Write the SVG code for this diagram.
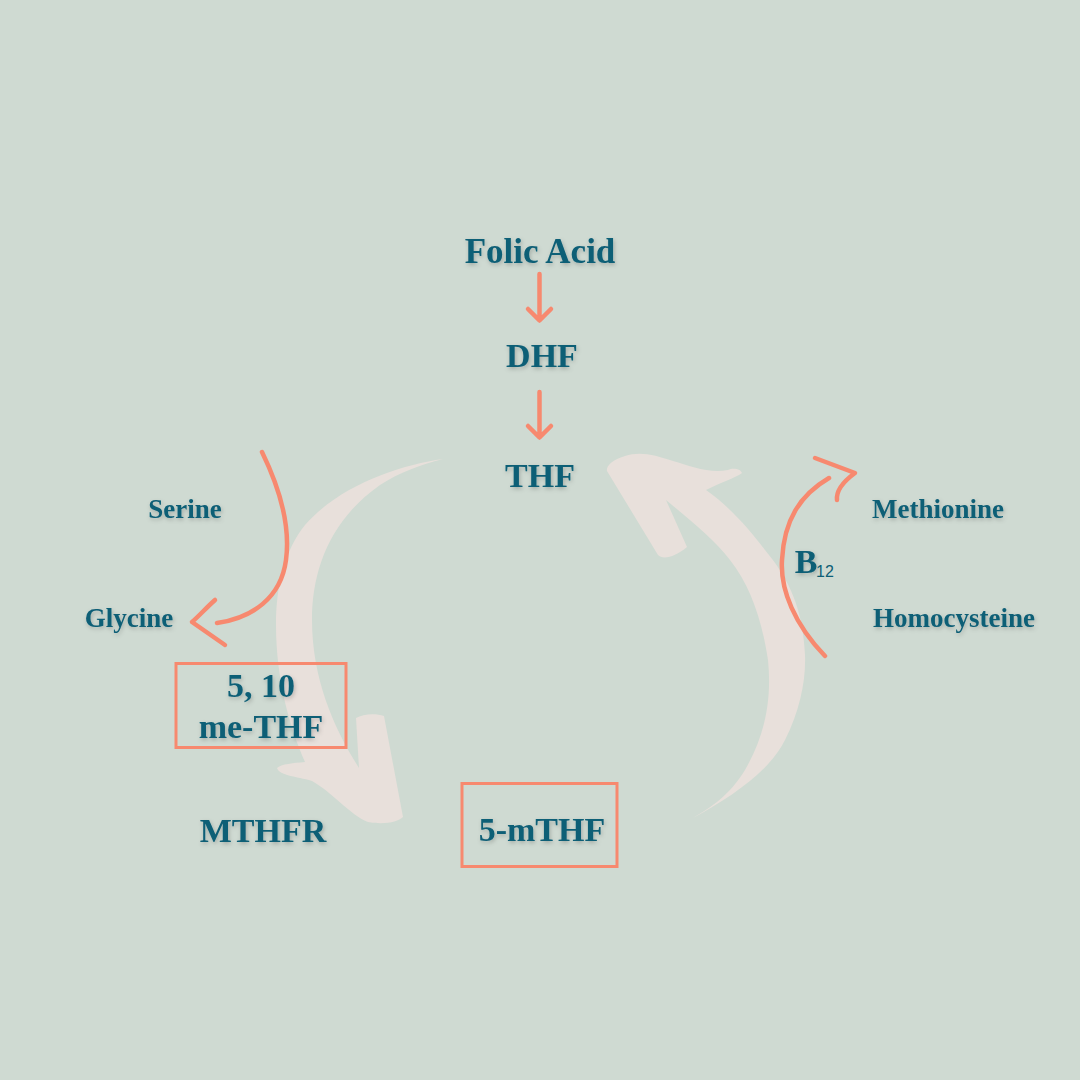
<svg xmlns="http://www.w3.org/2000/svg" width="1080" height="1080" viewBox="0 0 1080 1080">
<defs>
<filter id="sh" x="-20%" y="-40%" width="140%" height="180%">
<feDropShadow dx="1" dy="2" stdDeviation="2" flood-color="#000" flood-opacity="0.22"/>
</filter>
<style>
.t{font-family:"Liberation Serif","Times New Roman",serif;font-weight:bold;fill:#0D5E76;text-anchor:middle;filter:url(#sh)}
.big{font-size:34px}
.sm{font-size:27px}
.s{fill:none;stroke:#F7896F;stroke-width:4.5;stroke-linecap:round;stroke-linejoin:round}
.box{fill:none;stroke:#F7896F;stroke-width:3}
.brush{fill:#E8E0DB}
</style>
</defs>
<rect width="1080" height="1080" fill="#CFDAD2"/>
<g id="brushes">
<path class="brush" d="M443,459 C400,465 340,485 305,525 C285,550 276,585 276,625 C276,680 290,728 305,762 C294,763 281,764 277,768 C280,776 296,776 312,781 C332,792 350,815 368,822 C384,825 398,822 403,817 L384,716 C375,713 363,714 356,718 L359,768 C335,730 312,680 312,620 C312,570 330,520 380,485 C400,472 420,465 443,459 Z"/>
<path class="brush" d="M693,818 C735,795 770,770 785,740 C800,710 806,680 805,655 C803,610 790,580 765,550 C750,530 728,505 706,490 C720,483 735,478 742,473 C740,468 732,468 728,470 C710,474 690,466 673,461 C655,455 640,451 625,456 C612,460 606,466 607,471 L658,555 C663,560 675,557 687,547 L666,500 C690,520 715,540 730,560 C750,585 762,620 768,660 C772,700 765,735 745,770 C730,795 710,808 693,818 Z"/>
</g>
<g id="connectors">
<path class="s" d="M539.5,274 L539.5,320 M528,309 L539.5,320.5 L551,309"/>
<path class="s" d="M539.5,392 L539.5,437 M528,426 L539.5,437.5 L551,426"/>
<path class="s" d="M262,452 C283,495 290,530 286,560 C281,598 252,618 217,623"/>
<path class="s" d="M215,600 C206,608 199,616 192,622 L225,645"/>
<path class="s" d="M825,656 C795,625 780,590 782,560 C784,520 800,495 829,478"/>
<path class="s" d="M815,458 L855,473 C844,481 836,490 837,500"/>
</g>
<g id="folic"><text class="t" x="540" y="263" font-size="35">Folic Acid</text></g>
<g id="dhf"><text class="t big" x="542" y="367">DHF</text></g>
<g id="thf"><text class="t big" x="540" y="487">THF</text></g>
<g id="serine"><text class="t sm" x="185" y="518">Serine</text></g>
<g id="glycine"><text class="t sm" x="129" y="627">Glycine</text></g>
<g id="methionine"><text class="t sm" x="938" y="518">Methionine</text></g>
<g id="homocysteine"><text class="t sm" x="954" y="627">Homocysteine</text></g>
<g id="b12"><text class="t big" x="806" y="573">B</text><text x="816" y="577" style="font-family:'Liberation Sans',Arial,sans-serif;font-size:16px;fill:#0D5E76">12</text></g>
<g id="me-thf">
<rect class="box" x="176" y="663.5" width="170" height="84"/>
<text class="t big" x="261" y="697">5, 10</text>
<text class="t big" x="261" y="738">me-THF</text>
</g>
<g id="mthfr"><text class="t big" x="263" y="842">MTHFR</text></g>
<g id="five-mthf">
<rect class="box" x="462" y="783.5" width="155" height="83"/>
<text class="t big" x="542" y="841">5-mTHF</text>
</g>
</svg>
